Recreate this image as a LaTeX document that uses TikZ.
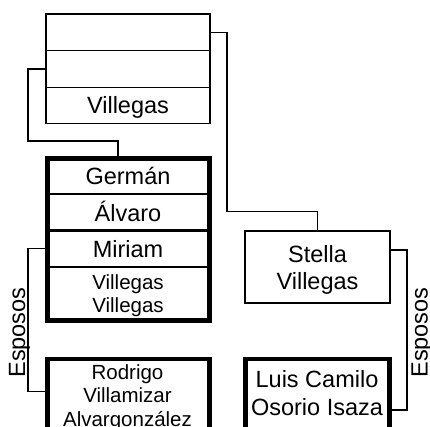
\documentclass[tikz,border=0pt]{standalone}
\usepackage{fontspec}
\setmainfont{Liberation Sans}
\begin{document}
\begin{tikzpicture}[x=1pt,y=-1pt,
  thincell/.style={draw, rectangle, line width=1.4pt, inner sep=0pt, outer sep=0pt, minimum width=164pt},
  midcell/.style={draw, rectangle, line width=2.4pt, inner sep=0pt, outer sep=0pt, minimum width=162pt},
  frame/.style={line width=4.5pt},
  bigbox/.style={draw, rectangle, line width=4.5pt, inner sep=0pt, outer sep=0pt},
  conn/.style={line width=1.4pt},
  txt/.style={inner sep=0pt, anchor=base, align=center, font=\fontsize{23.5}{27.2}\selectfont},
  stxt/.style={inner sep=0pt, anchor=base, align=center, font=\fontsize{20.5}{23.6}\selectfont}]
\useasboundingbox (0,0) rectangle (430,427);
% top group
\node[thincell, minimum height=36.7pt] (t1) at (128,32.35) {};
\node[thincell, minimum height=36.6pt] (t2) at (128,69) {};
\node[thincell, minimum height=36pt] (t3) at (128,105.3) {};
\node[txt] (t3t) at (128,113.3) {Villegas};
% German group
\node[midcell, minimum height=35.5pt] (g1) at (128.5,176.25) {};
\node[midcell, minimum height=36.7pt] (g2) at (128.5,212.35) {};
\node[midcell, minimum height=36pt] (g3) at (128.5,248.7) {};
\node[midcell, minimum height=53.8pt] (g4) at (128.5,293.6) {};
\draw[frame] (g1.north west) rectangle (g4.south east);
\node[txt] (g1t) at (128,185) {Germán};
\node[txt] (g2t) at (128,221.7) {Álvaro};
\node[txt] (g3t) at (128,257.3) {Miriam};
\node[stxt] (g4t) at (128,312.7) {Villegas\\Villegas};
% Stella
\node[draw, rectangle, line width=1.8pt, inner sep=0pt, outer sep=0pt, minimum width=145pt, minimum height=72.3pt] (s) at (317.5,266.85) {};
\node[txt] (st) at (317.5,289.3) {Stella\\Villegas};
% Rodrigo and Luis
\node[bigbox, minimum width=162pt, minimum height=111pt] (r) at (128.5,414.5) {};
\node[stxt] (rt) at (127.5,426.5) {Rodrigo\\Villamizar\\Alvargonzález};
\node[bigbox, minimum width=144pt, minimum height=111pt] (l) at (317.5,414.5) {};
\node[txt] (lt) at (317,415) {Luis Camilo\\Osorio Isaza};
% connectors
\coordinate (c1) at (118,141);
\draw[conn] (t2.west) -- (28,69) -- (28,141) -- (c1) -- (c1 |- g1.north);
\coordinate (c2) at (317.5,211.7);
\draw[conn] (t1.east) -- (227,32.35) -- (227,211.7) -- (c2) -- (s.north);
\coordinate (e1) at (28,391.7);
\draw[conn] (g3.west) -- (e1 |- g3.west) -- (e1) -- (e1 -| r.west);
\coordinate (e2a) at (407,250);
\coordinate (e2b) at (407,410);
\draw[conn] (e2a -| s.east) -- (e2a) -- (e2b) -- (e2b -| l.east);
% labels
\node[txt, rotate=90] (esp1) at (25,332.5) {Esposos};
\node[txt, rotate=90] (esp2) at (427.5,332.5) {Esposos};
\end{tikzpicture}
\end{document}
